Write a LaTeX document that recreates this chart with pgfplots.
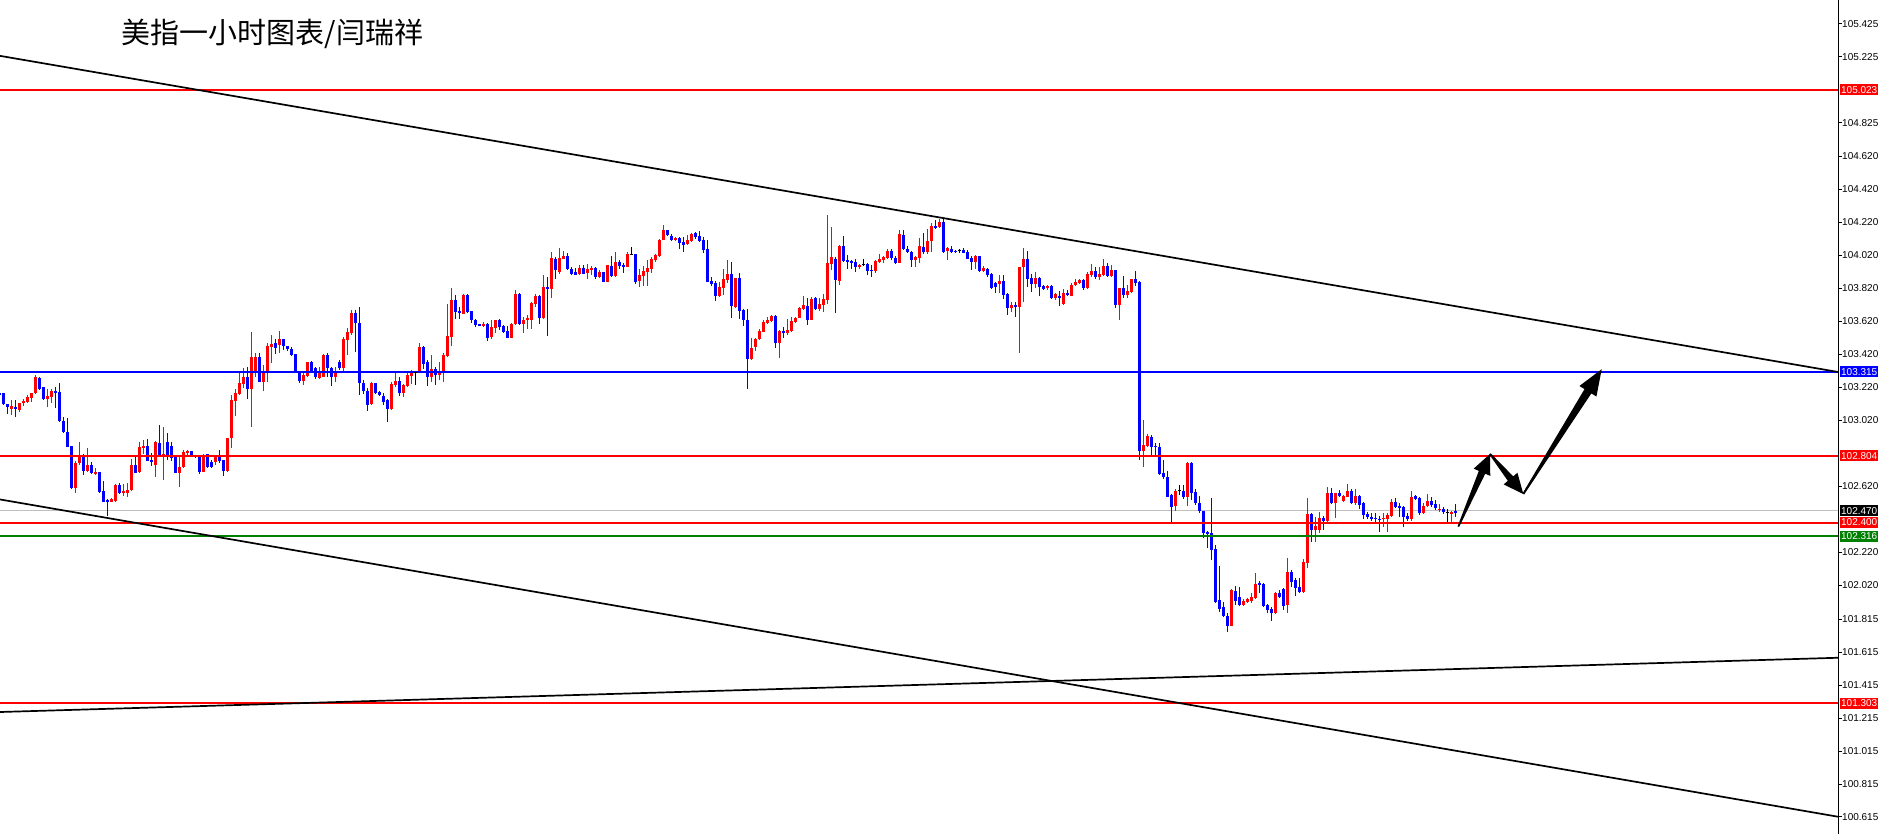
\documentclass[border=0pt]{standalone}
\usepackage{fontspec}
\setmainfont{Liberation Sans}
\newfontfamily\cjk{Noto Sans CJK SC}
\usepackage{pgfplots}
\usepackage{pgfplotstable}
\pgfplotsset{compat=1.18}
\definecolor{mtred}{RGB}{255,0,0}
\definecolor{mtblue}{RGB}{0,0,255}
\definecolor{mtgreen}{RGB}{0,128,0}
\definecolor{mtgray}{RGB}{192,192,192}

\pgfplotstableread{
k o h l c
-1 103.188 103.192 103.170 103.174
0 103.188 103.188 103.113 103.119
1 103.119 103.119 103.059 103.099
2 103.091 103.144 103.053 103.107
3 103.103 103.144 103.039 103.087
4 103.083 103.128 103.073 103.128
5 103.124 103.148 103.107 103.140
6 103.134 103.174 103.124 103.164
7 103.158 103.188 103.132 103.184
8 103.184 103.295 103.178 103.285
9 103.275 103.285 103.204 103.208
10 103.220 103.220 103.144 103.148
11 103.152 103.208 103.103 103.168
12 103.164 103.208 103.124 103.198
13 103.198 103.220 103.093 103.188
14 103.194 103.249 103.012 103.018
15 103.018 103.043 102.942 102.946
16 102.952 103.033 102.861 102.861
17 102.865 102.865 102.602 102.608
18 102.608 102.776 102.578 102.764
19 102.760 102.887 102.750 102.810
20 102.810 102.816 102.689 102.715
21 102.715 102.851 102.709 102.750
22 102.748 102.766 102.695 102.699
23 102.699 102.729 102.689 102.707
24 102.705 102.705 102.582 102.588
25 102.592 102.653 102.523 102.527
26 102.537 102.541 102.440 102.527
27 102.527 102.548 102.523 102.543
28 102.531 102.636 102.527 102.628
29 102.628 102.642 102.574 102.578
30 102.578 102.634 102.558 102.594
31 102.582 102.638 102.558 102.598
32 102.598 102.784 102.594 102.750
33 102.750 102.796 102.699 102.703
34 102.709 102.891 102.699 102.857
35 102.849 102.905 102.820 102.867
36 102.867 102.905 102.776 102.776
37 102.780 102.824 102.744 102.768
38 102.750 102.893 102.679 102.889
39 102.881 102.992 102.800 102.806
40 102.806 102.982 102.659 102.814
41 102.887 102.942 102.780 102.804
42 102.867 102.891 102.776 102.790
43 102.800 102.800 102.699 102.703
44 102.703 102.800 102.614 102.740
45 102.740 102.841 102.729 102.828
46 102.824 102.839 102.810 102.834
47 102.834 102.834 102.800 102.808
48 102.808 102.808 102.790 102.796
49 102.808 102.808 102.695 102.709
50 102.709 102.816 102.705 102.808
51 102.816 102.816 102.729 102.740
52 102.770 102.780 102.729 102.740
53 102.770 102.810 102.750 102.800
54 102.800 102.841 102.760 102.776
55 102.780 102.780 102.685 102.715
56 102.715 102.911 102.709 102.911
57 102.911 103.174 102.851 103.144
58 103.140 103.208 103.047 103.184
59 103.180 103.309 103.174 103.249
60 103.241 103.340 103.214 103.285
61 103.285 103.346 103.148 103.208
62 103.208 103.554 102.982 103.406
63 103.317 103.427 103.285 103.406
64 103.406 103.431 103.253 103.255
65 103.255 103.356 103.200 103.315
66 103.315 103.491 103.255 103.471
67 103.463 103.538 103.366 103.483
68 103.487 103.512 103.423 103.461
69 103.477 103.562 103.431 103.512
70 103.512 103.512 103.447 103.471
71 103.471 103.471 103.443 103.451
72 103.451 103.467 103.410 103.417
73 103.423 103.423 103.309 103.315
74 103.315 103.322 103.249 103.261
75 103.261 103.305 103.235 103.295
76 103.289 103.376 103.281 103.370
77 103.376 103.380 103.311 103.322
78 103.336 103.346 103.273 103.281
79 103.279 103.346 103.273 103.315
80 103.285 103.421 103.281 103.417
81 103.417 103.427 103.281 103.336
82 103.336 103.346 103.229 103.285
83 103.285 103.346 103.255 103.320
84 103.374 103.386 103.326 103.336
85 103.336 103.528 103.305 103.514
86 103.507 103.578 103.417 103.552
87 103.548 103.689 103.538 103.673
88 103.669 103.689 103.437 103.609
89 103.613 103.706 103.174 103.249
90 103.249 103.265 103.178 103.200
91 103.200 103.214 103.077 103.117
92 103.117 103.251 103.113 103.245
93 103.245 103.245 103.178 103.184
94 103.194 103.200 103.168 103.174
95 103.167 103.184 103.113 103.133
96 103.143 103.147 103.012 103.091
97 103.087 103.254 103.083 103.240
98 103.234 103.315 103.224 103.258
99 103.258 103.285 103.167 103.188
100 103.188 103.240 103.163 103.234
101 103.228 103.305 103.224 103.295
102 103.289 103.325 103.240 103.309
103 103.309 103.321 103.236 103.309
104 103.309 103.487 103.305 103.467
105 103.467 103.471 103.333 103.365
106 103.376 103.386 103.230 103.281
107 103.281 103.416 103.254 103.335
108 103.335 103.345 103.236 103.295
109 103.297 103.376 103.264 103.315
110 103.305 103.430 103.254 103.418
111 103.410 103.725 103.406 103.531
112 103.527 103.824 103.473 103.749
113 103.749 103.780 103.638 103.679
114 103.683 103.709 103.634 103.673
115 103.669 103.790 103.665 103.780
116 103.780 103.784 103.669 103.679
117 103.683 103.683 103.612 103.628
118 103.630 103.634 103.588 103.598
119 103.604 103.604 103.592 103.594
120 103.592 103.616 103.588 103.604
121 103.604 103.612 103.503 103.521
122 103.523 103.632 103.515 103.588
123 103.578 103.632 103.551 103.628
124 103.628 103.632 103.568 103.588
125 103.592 103.598 103.551 103.557
126 103.561 103.592 103.519 103.521
127 103.521 103.608 103.519 103.602
128 103.602 103.810 103.598 103.786
129 103.786 103.790 103.600 103.604
130 103.604 103.648 103.551 103.628
131 103.632 103.658 103.576 103.638
132 103.628 103.739 103.576 103.733
133 103.725 103.784 103.709 103.774
134 103.776 103.780 103.604 103.642
135 103.642 103.901 103.636 103.826
136 103.830 103.891 103.531 103.818
137 103.818 104.042 103.762 104.002
138 103.998 104.012 103.875 103.929
139 103.919 104.063 103.911 104.004
140 103.998 104.049 103.996 104.020
141 104.016 104.036 103.931 103.935
142 103.937 103.948 103.903 103.911
143 103.921 103.941 103.903 103.905
144 103.907 103.962 103.903 103.943
145 103.943 103.962 103.907 103.911
146 103.913 103.972 103.877 103.937
147 103.931 103.956 103.901 103.945
148 103.943 103.948 103.877 103.887
149 103.887 103.931 103.881 103.919
150 103.919 103.921 103.857 103.861
151 103.861 103.964 103.857 103.960
152 103.960 104.016 103.891 103.895
153 103.895 104.040 103.891 103.980
154 103.980 103.992 103.935 103.956
155 103.960 103.972 103.915 103.950
156 103.952 104.042 103.948 104.028
157 104.028 104.069 104.022 104.028
158 104.028 104.032 103.850 103.861
159 103.865 103.937 103.830 103.901
160 103.897 103.956 103.834 103.925
161 103.921 103.992 103.834 103.943
162 103.941 104.012 103.911 104.002
163 103.996 104.028 103.980 104.022
164 104.018 104.123 104.012 104.117
165 104.117 104.204 104.113 104.174
166 104.174 104.178 104.137 104.144
167 104.137 104.150 104.109 104.113
168 104.113 104.133 104.109 104.127
169 104.127 104.133 104.059 104.097
170 104.103 104.129 104.042 104.083
171 104.087 104.144 104.081 104.113
172 104.107 104.160 104.103 104.154
173 104.154 104.160 104.117 104.133
174 104.137 104.168 104.103 104.107
175 104.113 104.133 104.036 104.053
176 104.059 104.113 103.857 103.861
177 103.865 103.891 103.834 103.850
178 103.855 103.867 103.745 103.774
179 103.774 103.861 103.766 103.826
180 103.820 103.935 103.780 103.877
181 103.871 103.992 103.855 103.907
182 103.907 103.980 103.642 103.713
183 103.705 103.885 103.701 103.881
184 103.881 103.915 103.632 103.685
185 103.689 103.697 103.592 103.628
186 103.628 103.697 103.210 103.392
187 103.392 103.521 103.386 103.462
188 103.462 103.519 103.442 103.513
189 103.511 103.572 103.507 103.561
190 103.557 103.628 103.553 103.616
191 103.612 103.648 103.604 103.630
192 103.624 103.658 103.618 103.652
193 103.652 103.656 103.458 103.491
194 103.491 103.568 103.400 103.561
195 103.561 103.588 103.517 103.551
196 103.547 103.632 103.537 103.568
197 103.564 103.644 103.557 103.622
198 103.618 103.648 103.614 103.644
199 103.642 103.709 103.638 103.703
200 103.693 103.774 103.689 103.717
201 103.717 103.760 103.600 103.628
202 103.628 103.770 103.628 103.758
203 103.760 103.770 103.689 103.693
204 103.693 103.760 103.685 103.723
205 103.719 103.786 103.679 103.756
206 103.749 104.265 103.729 103.976
207 103.968 104.194 103.935 104.012
208 104.002 104.012 103.673 103.871
209 103.867 104.083 103.840 104.077
210 104.077 104.137 103.982 103.986
211 103.992 104.022 103.941 103.982
212 103.988 103.996 103.941 103.976
213 103.982 103.996 103.921 103.948
214 103.948 103.968 103.941 103.962
215 103.966 104.002 103.956 103.966
216 103.968 103.976 103.901 103.927
217 103.935 103.962 103.891 103.927
218 103.927 103.992 103.915 103.986
219 103.982 104.028 103.976 104.000
220 103.992 104.016 103.972 104.008
221 104.006 104.059 103.998 104.046
222 104.046 104.057 103.992 104.002
223 104.006 104.016 103.966 103.976
224 103.976 104.174 103.972 104.150
225 104.144 104.174 104.053 104.059
226 104.063 104.077 104.032 104.042
227 104.042 104.046 103.952 103.992
228 103.992 104.016 103.952 104.008
229 104.002 104.129 103.976 104.077
230 104.073 104.154 104.028 104.042
231 104.042 104.180 104.028 104.107
232 104.109 104.218 104.042 104.198
233 104.200 104.234 104.184 104.188
234 104.194 104.239 104.184 104.224
235 104.224 104.239 104.036 104.042
236 104.049 104.073 103.992 104.063
237 104.063 104.077 104.036 104.042
238 104.049 104.053 104.036 104.042
239 104.049 104.063 104.036 104.049
240 104.053 104.063 104.032 104.036
241 104.040 104.053 103.996 104.002
242 104.002 104.016 103.931 103.982
243 103.982 104.022 103.935 104.016
244 104.016 104.016 103.921 103.927
245 103.927 103.956 103.921 103.945
246 103.941 103.948 103.891 103.901
247 103.905 103.911 103.814 103.820
248 103.850 103.859 103.794 103.826
249 103.850 103.901 103.794 103.865
250 103.865 103.901 103.753 103.780
251 103.786 103.790 103.658 103.703
252 103.703 103.739 103.679 103.719
253 103.719 103.739 103.648 103.713
254 103.709 103.952 103.430 103.948
255 103.948 104.067 103.739 103.998
256 103.998 104.049 103.830 103.877
257 103.881 103.911 103.800 103.850
258 103.850 103.921 103.820 103.881
259 103.881 103.891 103.774 103.826
260 103.834 103.840 103.810 103.816
261 103.820 103.840 103.810 103.834
262 103.834 103.840 103.756 103.760
263 103.760 103.794 103.753 103.784
264 103.776 103.804 103.713 103.760
265 103.725 103.814 103.719 103.790
266 103.790 103.810 103.774 103.780
267 103.776 103.850 103.774 103.844
268 103.840 103.875 103.834 103.861
269 103.855 103.877 103.846 103.871
270 103.871 103.875 103.810 103.824
271 103.820 103.921 103.814 103.907
272 103.901 103.972 103.891 103.925
273 103.925 103.948 103.877 103.891
274 103.891 103.948 103.871 103.907
275 103.901 104.002 103.895 103.956
276 103.956 103.976 103.891 103.895
277 103.895 103.962 103.891 103.931
278 103.931 103.935 103.699 103.719
279 103.719 103.826 103.632 103.820
280 103.820 103.895 103.760 103.780
281 103.780 103.840 103.760 103.804
282 103.800 103.881 103.794 103.877
283 103.877 103.925 103.834 103.850
284 103.857 103.867 102.780 102.836
285 102.836 103.022 102.739 102.871
286 102.865 102.937 102.857 102.925
287 102.921 102.931 102.804 102.861
288 102.865 102.885 102.804 102.861
289 102.861 102.881 102.689 102.695
290 102.703 102.780 102.663 102.679
291 102.675 102.715 102.553 102.557
292 102.568 102.574 102.400 102.497
293 102.501 102.602 102.471 102.594
294 102.594 102.628 102.568 102.594
295 102.594 102.628 102.547 102.557
296 102.557 102.770 102.501 102.764
297 102.764 102.768 102.537 102.582
298 102.588 102.602 102.507 102.517
299 102.517 102.562 102.460 102.467
300 102.471 102.473 102.305 102.335
301 102.343 102.349 102.244 102.331
302 102.335 102.547 102.173 102.234
303 102.238 102.264 101.911 101.921
304 101.931 102.137 101.860 101.880
305 101.891 101.921 101.830 101.834
306 101.834 101.854 101.739 101.775
307 101.775 101.996 101.773 101.992
308 101.988 102.016 101.901 101.927
309 101.947 102.008 101.895 101.901
310 101.901 101.935 101.895 101.927
311 101.921 101.943 101.911 101.935
312 101.927 101.971 101.911 101.947
313 101.941 102.093 101.935 102.028
314 102.032 102.042 101.971 102.022
315 102.026 102.036 101.891 101.895
316 101.901 101.907 101.850 101.870
317 101.874 101.891 101.806 101.850
318 101.850 101.981 101.846 101.975
319 101.975 101.992 101.941 101.951
320 101.996 102.002 101.870 101.895
321 101.901 102.184 101.850 102.103
322 102.103 102.113 102.012 102.042
323 102.052 102.062 101.951 102.002
324 102.008 102.062 101.971 101.981
325 101.981 102.178 101.975 102.163
326 102.153 102.547 102.123 102.450
327 102.450 102.456 102.285 102.355
328 102.355 102.436 102.285 102.380
329 102.355 102.467 102.335 102.430
330 102.430 102.440 102.355 102.412
331 102.412 102.618 102.406 102.578
332 102.578 102.608 102.513 102.517
333 102.517 102.582 102.426 102.578
334 102.578 102.598 102.557 102.562
335 102.533 102.568 102.527 102.562
336 102.557 102.632 102.553 102.594
337 102.594 102.602 102.513 102.521
338 102.517 102.602 102.507 102.562
339 102.562 102.568 102.481 102.507
340 102.517 102.527 102.420 102.446
341 102.450 102.467 102.420 102.432
342 102.436 102.456 102.412 102.426
343 102.430 102.460 102.400 102.420
344 102.424 102.440 102.345 102.416
345 102.420 102.456 102.376 102.430
346 102.424 102.456 102.345 102.446
347 102.440 102.547 102.436 102.527
348 102.523 102.547 102.487 102.497
349 102.501 102.521 102.436 102.491
350 102.493 102.501 102.372 102.436
351 102.440 102.456 102.412 102.420
352 102.420 102.594 102.412 102.557
353 102.562 102.568 102.537 102.541
354 102.547 102.557 102.446 102.456
355 102.456 102.517 102.450 102.501
356 102.501 102.574 102.497 102.531
357 102.531 102.553 102.497 102.507
358 102.511 102.537 102.477 102.487
359 102.477 102.513 102.467 102.485
360 102.483 102.493 102.456 102.463
361 102.460 102.481 102.400 102.460
362 102.456 102.471 102.400 102.464
363 102.471 102.513 102.436 102.460
}\candles

\pgfplotsset{
  wick/.style={draw=none, mark=none, forget plot,
    error bars/.cd, y dir=both, y explicit, error mark=none,
    error bar style={draw=#1, line width=1pt, line cap=butt}},
  body/.style={draw=none, mark=none, forget plot,
    error bars/.cd, y dir=both, y explicit, error mark=none,
    error bar style={draw=#1, line width=3pt, line cap=butt}},
}
\tikzset{
  pricebox/.style={anchor=west, inner sep=0pt, minimum width=38pt, minimum height=11pt,
    text=white, font=\fontsize{10}{11}\selectfont, xshift=2pt},
}

\begin{document}
\begin{tikzpicture}
\begin{axis}[
  name=ax, at={(0,0)}, anchor=south west,
  width=1838pt, height=834pt, scale only axis,
  xmin=-0.825, xmax=458.675, ymin=100.5112, ymax=105.5688,
  axis x line=none,
  axis y line*=right,
  y axis line style={black, line width=1pt},
  tick align=outside,
  major tick length=4pt,
  tick style={black, line width=0.8pt},
  ytick={105.425,105.225,104.825,104.620,104.420,104.220,104.020,103.820,103.620,103.420,103.220,103.020,102.620,102.220,102.020,101.815,101.615,101.415,101.215,101.015,100.815,100.615},
  yticklabels={105.425,105.225,104.825,104.620,104.420,104.220,104.020,103.820,103.620,103.420,103.220,103.020,102.620,102.220,102.020,101.815,101.615,101.415,101.215,101.015,100.815,100.615},
  yticklabel style={anchor=west, inner sep=0pt, font=\fontsize{10}{11}\selectfont},
  clip=false,
]
% last price line
\addplot[mtgray, line width=1pt, forget plot] coordinates {(-0.825,102.470) (458.675,102.470)};

% wicks
\addplot[wick=mtred] table[x expr={\thisrow{c}>\thisrow{o} ? \thisrow{k} : nan}, y expr={(\thisrow{h}+\thisrow{l})/2}, y error expr={(\thisrow{h}-\thisrow{l})/2}] {\candles};
\addplot[wick=mtblue] table[x expr={\thisrow{c}<\thisrow{o} ? \thisrow{k} : nan}, y expr={(\thisrow{h}+\thisrow{l})/2}, y error expr={(\thisrow{h}-\thisrow{l})/2}] {\candles};
\addplot[wick=black] table[x expr={abs(\thisrow{c}-\thisrow{o})<0.0005 ? \thisrow{k} : nan}, y expr={(\thisrow{h}+\thisrow{l})/2}, y error expr={(\thisrow{h}-\thisrow{l})/2}] {\candles};
% bodies
\addplot[body=mtred] table[x expr={\thisrow{c}>\thisrow{o} ? \thisrow{k} : nan}, y expr={(\thisrow{o}+\thisrow{c})/2}, y error expr={(\thisrow{c}-\thisrow{o})/2}] {\candles};
\addplot[body=mtblue] table[x expr={\thisrow{c}<\thisrow{o} ? \thisrow{k} : nan}, y expr={(\thisrow{o}+\thisrow{c})/2}, y error expr={(\thisrow{o}-\thisrow{c})/2}] {\candles};
\addplot[only marks, mark=-, mark size=1.6pt, black, mark options={line width=1pt}, forget plot] table[x expr={abs(\thisrow{c}-\thisrow{o})<0.0005 ? \thisrow{k} : nan}, y=o] {\candles};

% horizontal levels
\addplot[mtred, line width=2pt] coordinates {(-0.825,105.023) (458.675,105.023)};
\addplot[mtblue, line width=2pt] coordinates {(-0.825,103.315) (458.675,103.315)};
\addplot[mtred, line width=2pt] coordinates {(-0.825,102.804) (458.675,102.804)};
\addplot[mtred, line width=2pt] coordinates {(-0.825,102.400) (458.675,102.400)};
\addplot[mtgreen, line width=2pt] coordinates {(-0.825,102.316) (458.675,102.316)};
\addplot[mtred, line width=2pt] coordinates {(-0.825,101.303) (458.675,101.303)};

% trend lines
\addplot[black, line width=1.7pt] coordinates {(-0.825,105.230) (458.675,103.313)};
\addplot[black, line width=1.7pt] coordinates {(-0.825,102.540) (458.675,100.616)};
\addplot[black, line width=1.7pt] coordinates {(-0.825,101.251) (458.675,101.580)};

% projected path arrows
\fill[black] (axis cs:363.95,102.373) -- (axis cs:370.48,102.696) -- (axis cs:371.74,102.683) -- (axis cs:371.68,102.816) -- (axis cs:367.60,102.727) -- (axis cs:368.88,102.713) -- (axis cs:363.57,102.377) -- cycle;
\fill[black] (axis cs:371.83,102.820) -- (axis cs:377.48,102.680) -- (axis cs:378.53,102.702) -- (axis cs:380.0,102.573) -- (axis cs:375.08,102.631) -- (axis cs:376.13,102.653) -- (axis cs:371.52,102.812) -- cycle;
\fill[black] (axis cs:380.2,102.570) -- (axis cs:397.0,103.183) -- (axis cs:398.28,103.164) -- (axis cs:399.6,103.330) -- (axis cs:394.03,103.228) -- (axis cs:395.3,103.209) -- (axis cs:379.8,102.576) -- cycle;

% price boxes
\node[pricebox, fill=mtred] at (axis cs:458.675,105.023) {105.023};
\node[pricebox, fill=mtblue] at (axis cs:458.675,103.315) {103.315};
\node[pricebox, fill=mtred] at (axis cs:458.675,102.804) {102.804};
\node[pricebox, fill=black] at (axis cs:458.675,102.470) {102.470};
\node[pricebox, fill=mtred] at (axis cs:458.675,102.400) {102.400};
\node[pricebox, fill=mtgreen] at (axis cs:458.675,102.316) {102.316};
\node[pricebox, fill=mtred] at (axis cs:458.675,101.303) {101.303};

% title
\node[anchor=west, inner sep=0pt, font=\cjk\fontsize{29}{29}\selectfont] at (rel axis cs:0.0662,0.9592) {美指一小时图表/闫瑞祥};
\end{axis}
\pgfresetboundingbox
\path (ax.south west) rectangle ([xshift=42pt]ax.north east);
\end{tikzpicture}
\end{document}
